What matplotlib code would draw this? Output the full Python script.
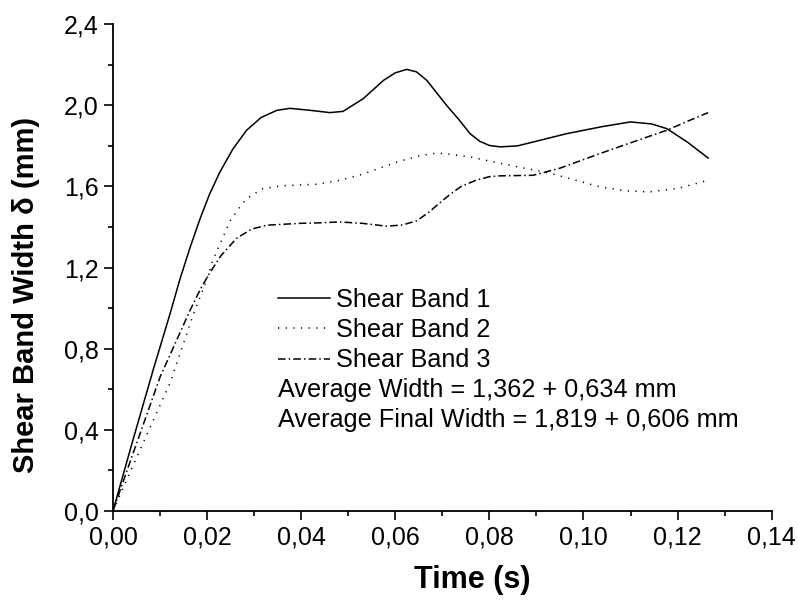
import numpy as np
import matplotlib.pyplot as plt

plt.rcParams['font.family'] = ['Liberation Sans', 'DejaVu Sans']

# values
t1 = [0.0, 0.004, 0.0086, 0.0121, 0.0142, 0.0164, 0.0185, 0.0205, 0.0227, 0.0255,
      0.0284, 0.0315, 0.0348, 0.0376, 0.042, 0.0461, 0.0489, 0.0532, 0.0575, 0.0600,
      0.0624, 0.0645, 0.0667, 0.0709, 0.0735, 0.0759, 0.078, 0.080, 0.0823, 0.086,
      0.0964, 0.104, 0.110, 0.1145, 0.1177, 0.122, 0.1265]
w1 = [0.0, 0.33, 0.70, 0.97, 1.14, 1.30, 1.44, 1.56, 1.67, 1.785,
      1.877, 1.94, 1.975, 1.985, 1.975, 1.964, 1.97, 2.033, 2.123, 2.16,
      2.177, 2.165, 2.123, 2.00, 1.93, 1.86, 1.822, 1.802, 1.795, 1.80,
      1.86, 1.895, 1.918, 1.908, 1.885, 1.82, 1.74]

t2 = [0.0, 0.0029, 0.0121, 0.0171, 0.0196, 0.0213, 0.0234, 0.0249, 0.027, 0.0284,
      0.0319, 0.0360, 0.0433, 0.0482, 0.0530, 0.0574, 0.061, 0.065, 0.068, 0.0701,
      0.076, 0.0823, 0.0929, 0.1035, 0.109, 0.114, 0.120, 0.1265]
w2 = [0.0, 0.153, 0.63, 0.97, 1.12, 1.24, 1.351, 1.43, 1.50, 1.54,
      1.590, 1.603, 1.611, 1.63, 1.66, 1.696, 1.725, 1.75, 1.762, 1.763,
      1.745, 1.714, 1.665, 1.598, 1.578, 1.573, 1.59, 1.63]

t3 = [0.0, 0.0036, 0.0100, 0.0164, 0.0185, 0.0206, 0.0230, 0.0263, 0.0295, 0.0327,
      0.0397, 0.0433, 0.0482, 0.0530, 0.0582, 0.0615, 0.0645, 0.0670, 0.0695, 0.0716,
      0.0740, 0.0773, 0.0800, 0.0820, 0.0893, 0.095, 0.1035, 0.110, 0.1177, 0.1226,
      0.1265]
w3 = [0.0, 0.24, 0.66, 0.99, 1.09, 1.175, 1.26, 1.345, 1.39, 1.409,
      1.418, 1.42, 1.425, 1.418, 1.404, 1.41, 1.43, 1.47, 1.52, 1.56,
      1.60, 1.632, 1.648, 1.652, 1.655, 1.69, 1.762, 1.815, 1.877, 1.926,
      1.964]

labels = ['Shear Band 1', 'Shear Band 2', 'Shear Band 3']
notes = ['Average Width = 1,362 + 0,634 mm', 'Average Final Width = 1,819 + 0,606 mm']

fig = plt.figure(figsize=(7.99, 6.04), dpi=100)
ax = fig.add_axes([0.1414, 0.154, 0.8244, 0.806])

ax.plot(t1, w1, color='black', lw=1.1, label=labels[0])
ax.plot(t2, w2, color='black', lw=1.1, dashes=(0.8, 4.2), label=labels[1])
ax.plot(t3, w3, color='black', lw=1.1, dashes=(5, 2, 1, 2), label=labels[2])

ax.set_xlim(0, 0.14)
ax.set_ylim(0, 2.4)
xt = np.arange(0, 0.141, 0.02)
yt = np.arange(0, 2.41, 0.4)
ax.set_xticks(xt)
ax.set_xticks(np.arange(0.01, 0.14, 0.02), minor=True)
ax.set_yticks(yt)
ax.set_yticks(np.arange(0.2, 2.4, 0.4), minor=True)
ax.set_xticklabels([('%.2f' % v).replace('.', ',') for v in xt])
ax.set_yticklabels([('%.1f' % v).replace('.', ',') for v in yt])

for s in ['top', 'right']:
    ax.spines[s].set_visible(False)
for s in ['left', 'bottom']:
    ax.spines[s].set_linewidth(1.3)
ax.tick_params(which='major', direction='out', length=6.5, width=1.2, labelsize=18, pad=4)
ax.tick_params(which='minor', direction='out', length=3.5, width=1.2)

ax.set_xlabel('Time (s)', fontsize=22, fontweight='bold', va='center')
ax.set_ylabel('Shear Band Width δ (mm)', fontsize=21, fontweight='bold', va='center')
ax.xaxis.set_label_coords(0.545, -0.1417)
ax.yaxis.set_label_coords(-0.132, 0.4435)

leg = ax.legend(loc='upper left', bbox_to_anchor=(0.2505, 0.4575), frameon=False,
                fontsize=18.2, handlelength=2.05, handletextpad=0.25,
                labelspacing=0.24, borderpad=0, borderaxespad=0)
ax.text(0.2505, 0.2485, notes[0], transform=ax.transAxes, fontsize=18.2, va='center')
ax.text(0.2505, 0.187, notes[1], transform=ax.transAxes, fontsize=18.2, va='center')

fig.savefig('out.png', dpi=100)
